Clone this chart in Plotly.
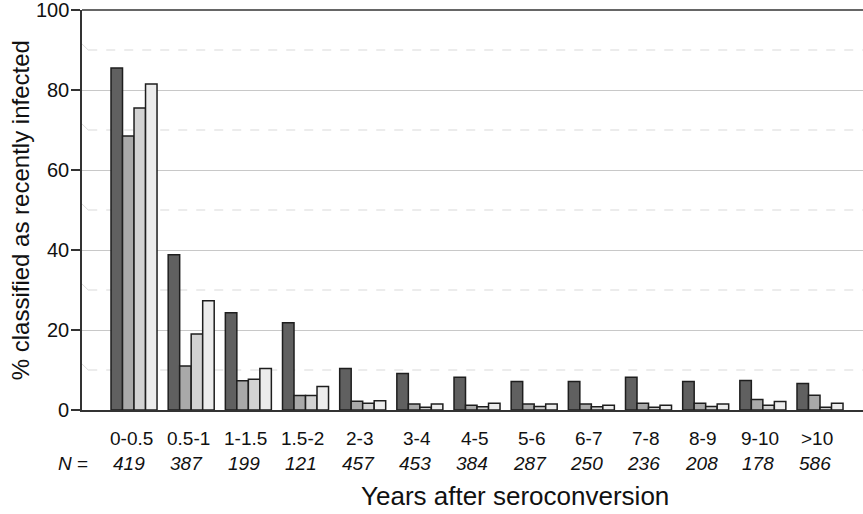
import plotly.graph_objects as go

categories = ["0-0.5", "0.5-1", "1-1.5", "1.5-2", "2-3", "3-4", "4-5", "5-6", "6-7", "7-8", "8-9", "9-10", ">10"]
n_values = ["419", "387", "199", "121", "457", "453", "384", "287", "250", "236", "208", "178", "586"]
series1 = [85.5, 38.8, 24.3, 21.8, 10.4, 9.1, 8.2, 7.1, 7.1, 8.2, 7.1, 7.4, 6.6]
series2 = [68.5, 11.0, 7.3, 3.6, 2.2, 1.5, 1.2, 1.5, 1.5, 1.7, 1.7, 2.6, 3.7]
series3 = [75.5, 19.0, 7.7, 3.6, 1.7, 0.7, 0.8, 0.9, 0.8, 0.7, 0.9, 1.2, 0.7]
series4 = [81.5, 27.3, 10.4, 5.9, 2.3, 1.5, 1.7, 1.5, 1.2, 1.2, 1.5, 2.1, 1.7]
y_ticks = [0, 20, 40, 60, 80, 100]
dashed_levels = [10, 30, 50, 70, 90]

colors = ["#606060", "#a9a9a9", "#d2d2d2", "#ececec"]
FONT = "Liberation Sans, Arial, sans-serif"

xs = list(range(len(categories)))
fig = go.Figure()
for vals, col in zip([series1, series2, series3, series4], colors):
    fig.add_trace(go.Bar(x=xs, y=vals, marker=dict(color=col, line=dict(color="#1e1e1e", width=1.5)),
                         showlegend=False, hoverinfo="y"))

shapes = []
for lv in dashed_levels:
    shapes.append(dict(type="line", xref="paper", yref="y", x0=0.008, x1=1, y0=lv, y1=lv,
                       line=dict(color="#d9d9d9", width=1, dash="dash"), layer="below"))
    shapes.append(dict(type="line", xref="paper", yref="y", x0=0.0, x1=0.008, y0=lv + 1.5, y1=lv,
                       line=dict(color="#dddddd", width=1), layer="below"))
shapes.append(dict(type="line", xref="paper", yref="paper", x0=0, x1=1, y0=1, y1=1,
                   line=dict(color="#333333", width=1.5)))

annotations = []
for t in y_ticks:
    annotations.append(dict(x=-0.014, y=t, xref="paper", yref="y", text=str(t), showarrow=False,
                            font=dict(family=FONT, size=20, color="#111"), xanchor="right", yanchor="middle"))
for i, (c, n) in enumerate(zip(categories, n_values)):
    annotations.append(dict(x=i - 0.05, y=-0.07, xref="x", yref="paper", text=c, showarrow=False,
                            font=dict(family=FONT, size=19, color="#111"), yanchor="middle"))
    annotations.append(dict(x=i - 0.08, y=-0.1325, xref="x", yref="paper", text="<i>" + n + "</i>", showarrow=False,
                            font=dict(family=FONT, size=19, color="#111"), yanchor="middle"))
annotations.append(dict(x=-0.033, y=-0.1325, xref="paper", yref="paper", text="<i>N</i> =", showarrow=False,
                        font=dict(family=FONT, size=19, color="#111"), yanchor="middle"))
annotations.append(dict(x=0.555, y=-0.215, xref="paper", yref="paper", text="Years after seroconversion",
                        showarrow=False, font=dict(family=FONT, size=26, color="#111"), yanchor="middle"))
annotations.append(dict(x=-0.079, y=0.5, xref="paper", yref="paper", text="% classified as recently infected",
                        showarrow=False, textangle=-90, font=dict(family=FONT, size=24, color="#111"),
                        xanchor="center", yanchor="middle"))

fig.update_layout(
    width=863, height=514,
    margin=dict(l=82, r=0, t=10, b=104),
    paper_bgcolor="white", plot_bgcolor="white",
    barmode="group", bargap=0.195, bargroupgap=0,
    shapes=shapes, annotations=annotations,
    xaxis=dict(range=[-0.91, 12.752], showticklabels=False, showgrid=False, zeroline=False,
               showline=True, linecolor="#333333", linewidth=1.5, ticks=""),
    yaxis=dict(range=[0, 100], tickvals=y_ticks, showticklabels=False, showgrid=True, gridcolor="#c8c8c8",
               gridwidth=1.2, zeroline=False, showline=True, linecolor="#333333", linewidth=1.5,
               ticks="outside", ticklen=9, tickcolor="#333333", tickwidth=1.5),
)
fig.write_html("out.html")
